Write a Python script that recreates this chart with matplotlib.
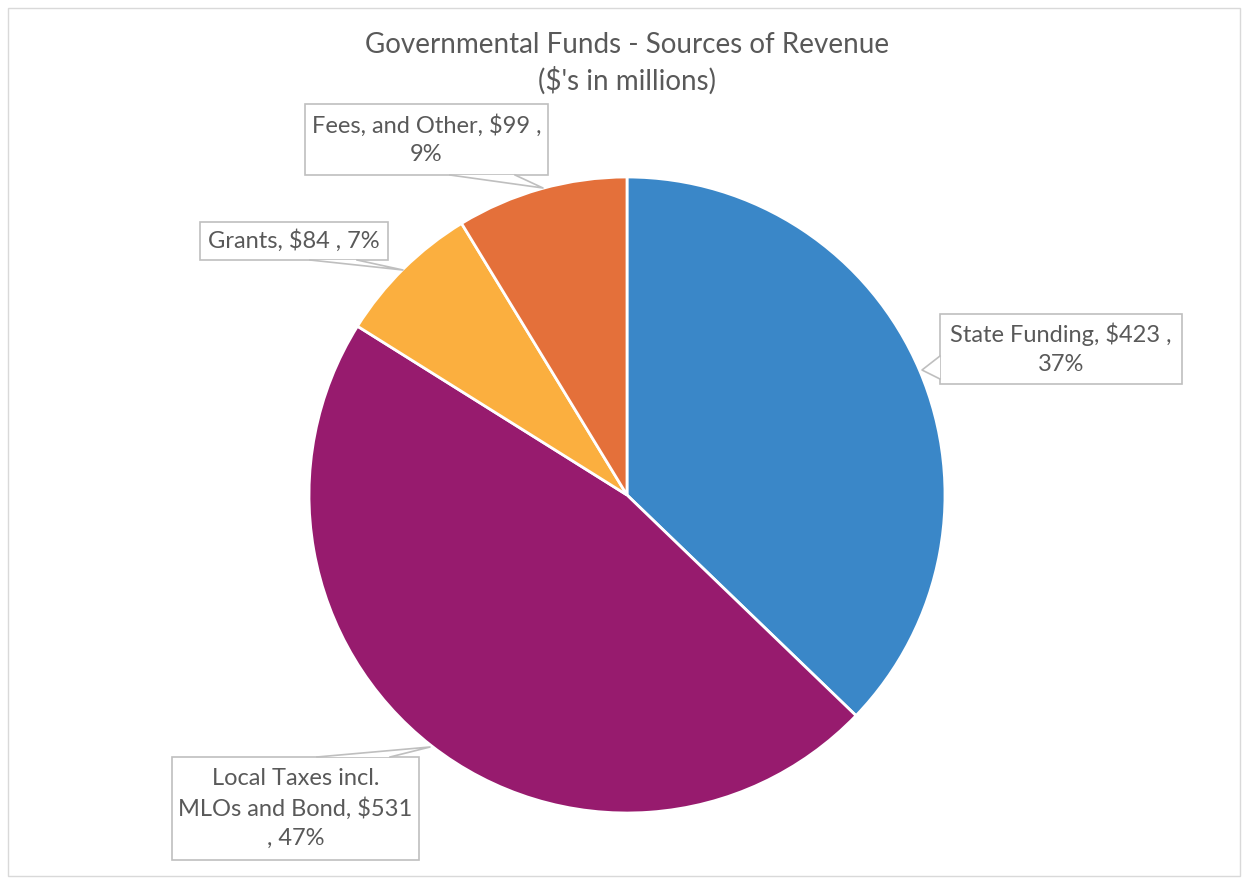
import textwrap
import matplotlib
matplotlib.use('Agg')
import matplotlib.pyplot as plt
from matplotlib.patches import Rectangle, Polygon

plt.rcParams['font.family'] = ['Lato', 'DejaVu Sans']

# data
names = ['State Funding', 'Local Taxes incl. MLOs and Bond', 'Grants', 'Fees, and Other']
values = [423, 531, 84, 99]
colors = ['#3A87C8', '#971B6E', '#FBAF3F', '#E4703A']

TXT = '#595959'
EDGE = '#BFBFBF'
W, H = 1244, 880

fig = plt.figure(figsize=(12.44, 8.8), dpi=100)
ax = fig.add_axes([0, 0, 1, 1])


def py(y):
    # pixel row -> data y
    return H - y


ax.pie(values, colors=colors, startangle=90, counterclock=False,
       center=(627, py(495)), radius=318, frame=True,
       wedgeprops=dict(edgecolor='white', linewidth=2))
ax.set_xlim(0, W)
ax.set_ylim(0, H)
ax.set_aspect('equal')
ax.axis('off')

# outer chart frame
ax.add_patch(Rectangle((8, py(876)), 1232, 868, fill=False, ec='#D9D9D9', lw=1))

ax.text(627, py(45), 'Governmental Funds - Sources of Revenue', ha='center', va='center',
        fontsize=20, color=TXT)
ax.text(627, py(81), '(\\$\'s in millions)', ha='center', va='center',
        fontsize=20, color=TXT)

# callout layout: box (x0, y0, x1, y1) in pixels, pointer base pts, tip, wrap width
total = sum(values)
layout = [
    ((940, 314, 1182, 384), [(940, 356), (940, 379)], (922, 370), 21),
    ((172, 757, 419, 860), [(317, 757), (390, 757)], (430, 747), 19),
    ((200, 222, 388, 260), [(310, 260), (357, 260)], (403, 270), 40),
    ((305, 104, 548, 175), [(450, 175), (515, 175)], (543, 188), 22),
]

for name, v, (box, base, tip, wrap) in zip(names, values, layout):
    pct = round(v / total * 100)
    label = textwrap.fill(f'{name}, ${v} , {pct}%', wrap).replace('$', '\\$')
    x0, y0, x1, y1 = box
    ax.add_patch(Rectangle((x0, py(y1)), x1 - x0, y1 - y0, fc='white', ec=EDGE, lw=1.2, zorder=5))
    pts = [(base[0][0], py(base[0][1])), (tip[0], py(tip[1])), (base[1][0], py(base[1][1]))]
    ax.add_patch(Polygon(pts, closed=True, fc='white', ec='none', zorder=6))
    ax.plot([p[0] for p in pts], [p[1] for p in pts], color=EDGE, lw=1.2, zorder=6)
    ax.text((x0 + x1) / 2, py((y0 + y1) / 2), label, ha='center', va='center',
            fontsize=17, color=TXT, linespacing=1.45, zorder=7)

fig.savefig('out.png', dpi=100, facecolor='white')
